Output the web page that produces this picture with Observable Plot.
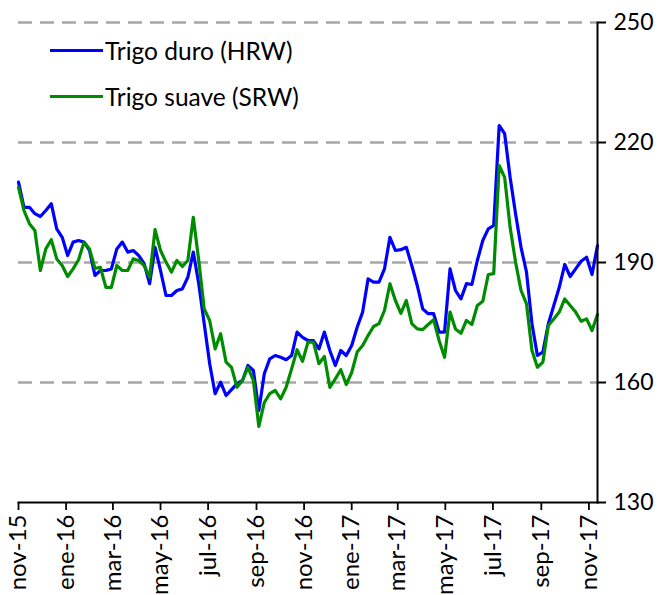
<!DOCTYPE html>
<html>
<head>
<meta charset="utf-8">
<script src="https://cdn.jsdelivr.net/npm/d3@7"></script>
<script src="https://cdn.jsdelivr.net/npm/@observablehq/plot@0.6"></script>
<style>
  html, body { margin: 0; padding: 0; background: #fff; }
  #wrap { position: relative; width: 666px; height: 595px; font-family: Lato, sans-serif; }
  #legend { position: absolute; left: 50px; top: 27px; font-size: 24.5px; color: #000; }
  #legend .item { display: flex; align-items: center; height: 46px; }
  #legend .sw { width: 53px; height: 3px; margin-right: 2px; }
  .xax text { font-size: 24px; }
</style>
</head>
<body>
<div id="wrap"><div id="legend"></div></div>
<script>
// Weekly series, first week starting 2015-11-01
const startDate = "2015-11-01";
const seriesNames = ["Trigo duro (HRW)", "Trigo suave (SRW)"];
const seriesColors = ["#0000ff", "#008c00"];

const hrw = [210.1, 203.8, 203.8, 202.2, 201.5, 203, 204.7, 198.4, 196.3, 191.75,
  195.1, 195.5, 195.1, 193, 186.75, 188, 188, 188.4, 193.4, 195.1,
  192.6, 193, 191.75, 189.7, 184.7, 193.8, 188, 181.75, 181.75, 183,
  183.4, 186.3, 192.6, 184.7, 174.7, 164.7, 157.2, 160.1, 156.75, 158.2,
  159.7, 160.5, 164.25, 163, 153, 162.2, 165.9, 166.75, 166.3, 165.7,
  166.75, 172.6, 171.3, 170.5, 170.5, 168.4, 172.6, 168, 164.25, 168,
  166.75, 169.25, 173.8, 177.6, 185.9, 185.1, 185.1, 188.4, 196.3, 193,
  193.2, 193.8, 189.25, 184.25, 178.4, 177.2, 177.2, 172.6, 172.6, 188.4,
  183, 180.9, 184.7, 184.5, 190.5, 195.5, 198.4, 199.25, 224.25, 222.2,
  211.3, 202.2, 193.8, 187.6, 174.7, 166.75, 167.6, 174.7, 179.25, 183.8,
  189.5, 186.5, 188.4, 190.3, 191.3, 187, 194.25];

const srw = [208.8, 203, 199.7, 198, 188, 193.4, 195.7, 190.9, 189.25, 186.5,
  188.4, 190.7, 195.1, 193.4, 188.5, 188.8, 183.8, 183.8, 189.25, 188,
  188, 190.9, 190.5, 189.25, 186.3, 198.2, 193, 190.1, 187.6, 190.5,
  189, 190.5, 201.3, 190.5, 178.4, 175.5, 168.4, 172.2, 165.1, 163.8,
  158.8, 160.5, 163.8, 160.5, 149, 155, 157.2, 158, 155.9, 158.8,
  163.4, 168.2, 165.3, 170.1, 170.1, 164.7, 166.5, 158.8, 160.9, 163.2,
  159.5, 162.5, 167.6, 169.25, 171.75, 174, 174.7, 178, 184.7, 180.5,
  177.3, 180.5, 174.7, 173.4, 173.2, 174.5, 175.7, 170.5, 166.3, 177.6,
  173.4, 172.3, 175.5, 174.5, 179.25, 180.3, 187, 187.2, 214.25, 211.3,
  198.8, 190.1, 183, 179.7, 168, 163.8, 165.1, 174.25, 175.9, 177.6,
  180.9, 179.25, 177.6, 175.3, 175.9, 173, 177];

const xTickDates = ["2015-11-01", "2016-01-01", "2016-03-01", "2016-05-01", "2016-07-01", "2016-09-01",
  "2016-11-01", "2017-01-01", "2017-03-01", "2017-05-01", "2017-07-01", "2017-09-01", "2017-11-01"];
const xTickLabels = ["nov-15", "ene-16", "mar-16", "may-16", "jul-16", "sep-16",
  "nov-16", "ene-17", "mar-17", "may-17", "jul-17", "sep-17", "nov-17"];
const yTicks = [130, 160, 190, 220, 250];
const gridValues = [160, 190, 220, 250];

const t0 = new Date(startDate + "T00:00:00Z");
const dates = hrw.map((_, i) => d3.utcDay.offset(t0, 7 * i));
const data = dates.map((d, i) => ({date: d, hrw: hrw[i], srw: srw[i]}));
const tickDates = xTickDates.map(s => new Date(s + "T00:00:00Z"));

const chart = Plot.plot({
  width: 666,
  height: 595,
  marginLeft: 18,
  marginRight: 69,
  marginTop: 22,
  marginBottom: 93,
  style: {fontFamily: "Lato, sans-serif", fontSize: "23px", color: "#000", background: "#fff", overflow: "visible"},
  x: {type: "utc", domain: [dates[0], dates[dates.length - 1]]},
  y: {domain: [130, 250]},
  marks: [
    Plot.ruleY(gridValues, {stroke: "#a6a6a6", strokeWidth: 2.5, strokeDasharray: "14,8"}),
    Plot.line(data, {x: "date", y: "hrw", stroke: seriesColors[0], strokeWidth: 3.2}),
    Plot.line(data, {x: "date", y: "srw", stroke: seriesColors[1], strokeWidth: 3.2}),
    Plot.frame({anchor: "bottom", stroke: "#000", strokeWidth: 1.8}),
    Plot.frame({anchor: "right", stroke: "#000", strokeWidth: 2}),
    Plot.axisY({anchor: "right", ticks: yTicks, tickSize: 8, tickPadding: 8, label: null,
      tickFormat: d => String(d), stroke: "#000", strokeWidth: 2}),
    Plot.axisX({anchor: "bottom", ticks: tickDates, tickSize: 8, tickPadding: 4, tickRotate: -90, label: null,
      tickFormat: (d, i) => xTickLabels[i], stroke: "#000", strokeWidth: 1.8, className: "xax"})
  ]
});

const wrap = document.getElementById("wrap");
wrap.insertBefore(chart, wrap.firstChild);
const legend = document.getElementById("legend");
seriesNames.forEach((name, i) => {
  const item = document.createElement("div");
  item.className = "item";
  const sw = document.createElement("span");
  sw.className = "sw";
  sw.style.background = seriesColors[i];
  const tx = document.createElement("span");
  tx.textContent = name;
  item.appendChild(sw);
  item.appendChild(tx);
  legend.appendChild(item);
});
</script>
</body>
</html>
